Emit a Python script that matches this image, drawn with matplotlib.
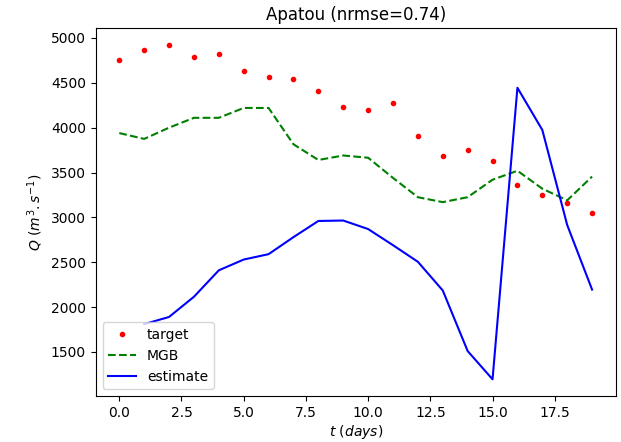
import matplotlib
matplotlib.use('Agg')
import matplotlib.pyplot as plt
import numpy as np

days = np.arange(20)
target = [4750, 4865, 4925, 4790, 4820, 4635, 4565, 4545, 4405, 4230,
          4200, 4270, 3905, 3680, 3755, 3625, 3365, 3250, 3155, 3045]
mgb = [3940, 3875, 4000, 4110, 4110, 4220, 4220, 3815, 3640, 3690,
       3665, 3440, 3225, 3170, 3225, 3420, 3520, 3320, 3190, 3455]
est_days = np.arange(1, 20)
estimate = [1810, 1890, 2115, 2410, 2530, 2590, 2780, 2960, 2965, 2870,
            2690, 2505, 2185, 1510, 1195, 4445, 3975, 2915, 2195]

plt.figure(figsize=(6.21, 4.42), dpi=100)
plt.plot(days, target, 'r.', label='target')
plt.plot(days, mgb, 'g--', label='MGB')
plt.plot(est_days, estimate, 'b-', label='estimate')
plt.title('Apatou (nrmse=0.74)')
plt.xlabel(r'$t\ (days)$', labelpad=2)
plt.ylabel(r'$Q\ (m^3.s^{-1})$')
plt.legend(loc='lower left')
plt.subplots_adjust(left=0.154, right=0.9915, top=0.9367, bottom=0.104)
plt.savefig('out.png')
